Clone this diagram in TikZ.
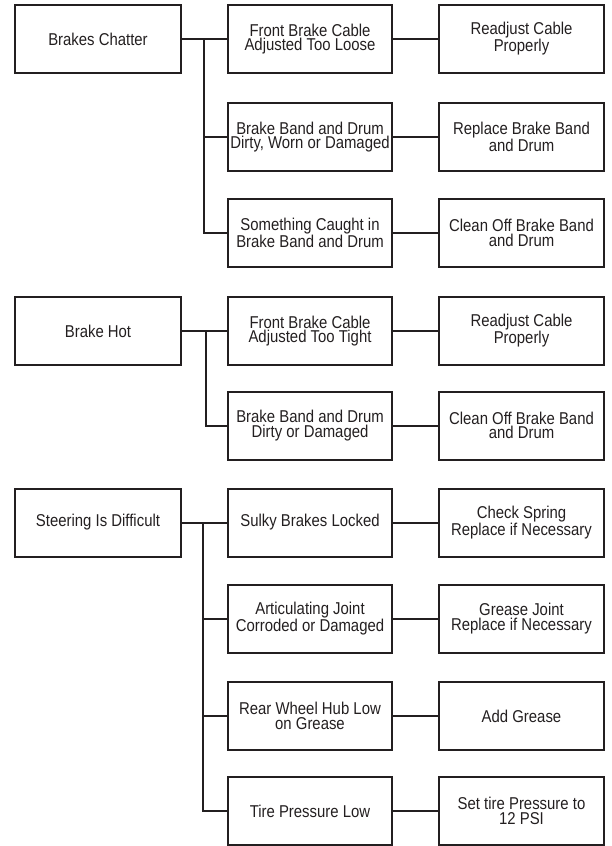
\documentclass[tikz,border=0pt]{standalone}
\usepackage{fontspec}
\setmainfont{Liberation Sans}[FakeStretch=0.87]
\definecolor{ink}{HTML}{231F20}
\begin{document}
\begin{tikzpicture}[x=1bp,y=-1bp,
  box/.style={draw=ink, line width=2bp, inner sep=0pt, minimum height=68bp,
    align=center, text=ink, font=\fontsize{17.2}{14.6}\selectfont},
  lbox/.style={box, minimum width=166bp},
  mbox/.style={box, minimum width=164bp},
  rbox/.style={box, minimum width=165bp},
  link/.style={draw=ink, line width=2bp, line join=miter}]
\useasboundingbox (0,0) rectangle (612,846);
% Section 1
\node[lbox] (A) at (98,39) {Brakes Chatter};
\node[mbox] (A1) at (310,39) {Front Brake Cable\\Adjusted Too Loose};
\node[mbox] (A2) at (310,137) {Brake Band and Drum\\Dirty, Worn or Damaged};
\node[mbox] (A3) at (310,233) {Something Caught in\\Brake Band and Drum};
\node[rbox] (A1r) at (521.5,39) {Readjust Cable\\Properly};
\node[rbox] (A2r) at (521.5,137) {Replace Brake Band\\and Drum};
\node[rbox] (A3r) at (521.5,233) {Clean Off Brake Band\\and Drum};
\coordinate (JA) at (204,39);
\draw[link] (A.east) -- (A1.west);
\draw[link] (JA) |- (A2.west);
\draw[link] (JA) |- (A3.west);
\draw[link] (A1.east) -- (A1r.west);
\draw[link] (A2.east) -- (A2r.west);
\draw[link] (A3.east) -- (A3r.west);
% Section 2
\node[lbox] (B) at (98,331) {Brake Hot};
\node[mbox] (B1) at (310,331) {Front Brake Cable\\Adjusted Too Tight};
\node[mbox] (B2) at (310,425.5) {Brake Band and Drum\\Dirty or Damaged};
\node[rbox] (B1r) at (521.5,331) {Readjust Cable\\Properly};
\node[rbox] (B2r) at (521.5,425.5) {Clean Off Brake Band\\and Drum};
\coordinate (JB) at (206,331);
\draw[link] (B.east) -- (B1.west);
\draw[link] (JB) |- (B2.west);
\draw[link] (B1.east) -- (B1r.west);
\draw[link] (B2.east) -- (B2r.west);
% Section 3
\node[lbox] (C) at (98,522.5) {Steering Is Difficult};
\node[mbox] (C1) at (310,522.5) {Sulky Brakes Locked};
\node[mbox] (C2) at (310,618.5) {Articulating Joint\\Corroded or Damaged};
\node[mbox] (C3) at (310,716) {Rear Wheel Hub Low\\on Grease};
\node[mbox] (C4) at (310,811) {Tire Pressure Low};
\node[rbox] (C1r) at (521.5,522.5) {Check Spring\\Replace if Necessary};
\node[rbox] (C2r) at (521.5,618.5) {Grease Joint\\Replace if Necessary};
\node[rbox] (C3r) at (521.5,716) {Add Grease};
\node[rbox] (C4r) at (521.5,811) {Set tire Pressure to\\12 PSI};
\coordinate (JC) at (203,522.5);
\draw[link] (C.east) -- (C1.west);
\draw[link] (JC) |- (C2.west);
\draw[link] (JC) |- (C3.west);
\draw[link] (JC) |- (C4.west);
\draw[link] (C1.east) -- (C1r.west);
\draw[link] (C2.east) -- (C2r.west);
\draw[link] (C3.east) -- (C3r.west);
\draw[link] (C4.east) -- (C4r.west);
\end{tikzpicture}
\end{document}
